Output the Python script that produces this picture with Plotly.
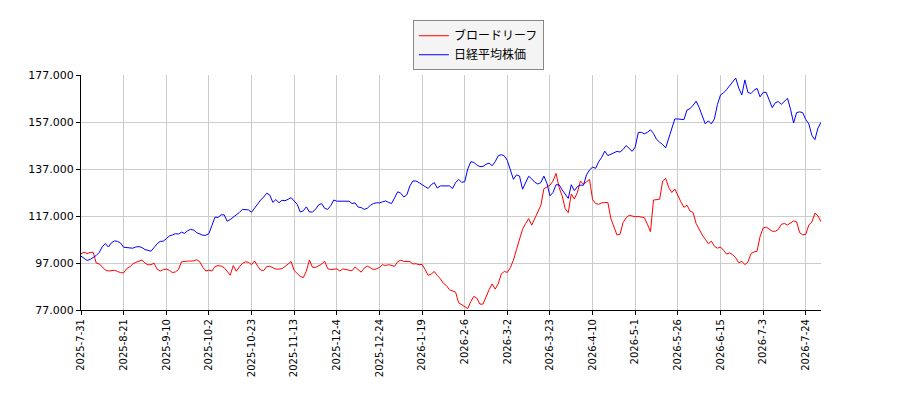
import plotly.graph_objects as go

# tick labels (every 14 trading days)
tick_labels = ["2025-7-31", "2025-8-21", "2025-9-10", "2025-10-2", "2025-10-23",
               "2025-11-13", "2025-12-4", "2025-12-24", "2026-1-19", "2026-2-6",
               "2026-3-2", "2026-3-23", "2026-4-10", "2026-5-1", "2026-5-26",
               "2026-6-15", "2026-7-3", "2026-7-24"]
tick_pos = [0, 14, 28, 42, 56, 70, 84, 98, 112, 126, 140, 154, 168, 182, 196, 210, 224, 238]

# ブロードリーフ (red)
broadleaf = [
    100.9, 101.6, 101.0, 101.5, 101.6, 97.0, 96.6, 95.4, 94.0, 93.6, 93.7, 93.9, 93.4, 92.9,
    92.8, 94.6, 95.3, 96.6, 97.3, 97.8, 98.2, 97.0, 96.2, 96.3, 96.9, 94.4, 93.6, 94.2, 94.4, 93.9,
    92.9, 93.2, 94.2, 97.5, 97.8, 97.8, 97.8, 97.9, 98.4, 97.5, 95.2, 93.6, 94.0, 93.6, 95.5,
    95.9, 95.7, 95.0, 93.5, 91.8, 95.9, 93.5, 95.3, 96.8, 97.5, 97.3, 96.3, 97.9, 95.7, 94.0,
    93.8, 95.5, 95.6, 94.9, 94.4, 94.4, 94.6, 95.5, 96.5, 97.6, 93.8, 92.7, 91.3, 90.8, 93.5,
    98.3, 95.2, 95.1, 95.8, 96.5, 97.8, 94.6, 94.2, 94.2, 94.5, 93.6, 94.5, 94.2, 94.0, 93.7,
    95.3, 94.2, 93.1, 94.8, 95.7, 95.0, 94.2, 94.5, 95.1, 96.3, 95.9, 96.3, 95.9, 95.6, 97.6,
    98.2, 97.7, 97.6, 97.6, 96.6, 96.7, 96.3, 96.4, 94.2, 91.7, 92.3, 93.4, 91.7, 90.3, 88.4,
    87.4, 85.6, 85.2, 84.6, 80.1, 79.2, 78.4, 77.6, 80.6, 82.8, 82.0, 79.5, 79.5, 82.8, 85.6,
    88.1, 85.9, 88.1, 92.3, 93.4, 93.0, 95.1, 98.2, 102.7, 107.6, 111.4, 113.8, 115.9, 113.1,
    115.9, 118.4, 121.5, 128.6, 129.2, 130.1, 131.9, 135.1, 129.1, 125.6, 120.1, 118.4, 126.4,
    124.2, 127.0, 131.9, 130.5, 131.4, 132.6, 123.9, 122.3, 122.0, 122.6, 122.7, 122.8, 115.9,
    112.0, 108.9, 109.2, 114.2, 116.2, 117.3, 117.0, 116.7, 116.8, 116.7, 116.3, 113.5, 110.3,
    123.8, 123.8, 124.1, 131.9, 133.0, 129.1, 127.0, 128.5, 125.6, 123.0, 120.7, 121.6, 119.1,
    118.5, 113.8, 111.0, 108.9, 107.1, 105.2, 106.3, 104.1, 103.3, 103.8, 102.4, 100.8,
    101.3, 100.5, 99.2, 97.1, 97.7, 96.3, 97.4, 101.0, 101.7, 102.0, 108.3, 111.9, 112.3, 111.3,
    110.5, 110.5, 111.3, 113.5, 113.8, 113.2, 114.1, 114.9, 114.5, 109.9, 109.0, 109.2, 113.2,
    114.4, 118.2, 117.1, 114.5,
]

# 日経平均株価 (blue)
nikkei = [
    99.9, 99.0, 98.1, 98.5, 99.4, 100.2, 101.5, 104.0, 105.3, 103.8, 105.6, 106.4, 106.2, 105.5,
    103.7, 103.5, 103.6, 103.3, 103.8, 104.0, 103.6, 102.7, 102.4, 102.0, 103.6, 105.2, 106.2,
    106.3, 107.3, 108.5, 108.9, 109.5, 109.3, 110.1, 109.6, 110.7, 111.3, 111.0, 109.9, 109.3,
    108.8, 108.8, 109.5, 113.0, 116.5, 116.4, 117.5, 117.5, 114.8, 115.5, 116.5, 117.3, 118.5,
    119.8, 119.8, 119.6, 118.6, 120.3, 122.4, 123.8, 125.1, 126.7, 125.9, 122.8, 124.0, 122.6,
    123.7, 123.5, 124.1, 124.8, 123.4, 121.9, 118.7, 119.2, 120.9, 118.7, 118.7, 119.8, 121.7,
    122.3, 120.3, 119.8, 121.4, 123.8, 123.3, 123.3, 123.3, 123.1, 123.3, 122.3, 122.6, 120.8,
    120.6, 119.8, 120.3, 121.5, 122.3, 122.6, 122.6, 123.0, 123.4, 122.8, 122.3, 124.8, 127.3,
    126.7, 125.1, 126.0, 129.8, 131.9, 131.9, 131.2, 130.5, 129.5, 128.7, 130.3, 131.2, 128.9,
    129.8, 129.8, 129.8, 129.8, 128.7, 131.2, 132.6, 131.3, 131.6, 137.0, 140.1, 139.8, 138.7,
    138.0, 138.1, 139.0, 139.5, 138.4, 140.1, 142.6, 143.1, 142.6, 140.6, 136.4, 132.6, 134.5,
    134.0, 128.4, 131.4, 133.9, 132.8, 131.4, 130.6, 131.2, 134.0, 130.9, 125.6, 127.0, 130.3,
    130.3, 128.1, 126.2, 124.5, 130.3, 127.8, 129.5, 130.1, 130.1, 134.5, 136.6, 137.8, 137.3,
    140.1, 142.0, 144.6, 142.7, 143.4, 143.9, 144.5, 144.2, 145.3, 147.0, 145.6, 144.5, 146.4,
    152.5, 152.6, 152.0, 152.6, 153.7, 152.1, 149.6, 148.4, 147.4, 146.0, 149.9, 154.4, 158.3,
    158.3, 158.0, 158.0, 162.1, 162.7, 164.1, 165.9, 163.1, 159.9, 156.2, 157.5, 156.2, 158.3,
    164.5, 168.5, 169.4, 170.8,
    172.4, 173.8, 175.7, 171.4, 168.5, 174.9, 169.6, 169.1, 170.5, 171.3, 167.7, 169.6, 169.6,
    166.3, 163.1, 165.2, 165.7, 164.5, 166.0, 167.1, 162.4, 156.6, 161.0, 161.3, 161.0, 158.0,
    156.2, 151.3, 149.5, 154.4, 156.9,
]

x = list(range(len(nikkei)))

fig = go.Figure()
fig.add_trace(go.Scatter(x=x, y=broadleaf, mode="lines", name="ブロードリーフ",
                         line=dict(color="#ff0000", width=1)))
fig.add_trace(go.Scatter(x=x, y=nikkei, mode="lines", name="日経平均株価",
                         line=dict(color="#0000ff", width=1)))

# the page adds an 8px body margin, so the margins are shifted by that much
fig.update_layout(
    width=900, height=400,
    margin=dict(l=73, r=87, t=62, b=98),
    paper_bgcolor="white", plot_bgcolor="white",
    font=dict(family="DejaVu Sans", size=11, color="black"),
    legend=dict(x=0.537, y=1.233, xanchor="center", yanchor="top",
                bgcolor="#f4f4f4", bordercolor="#888888", borderwidth=1,
                tracegroupgap=0,
                font=dict(family="Noto Sans CJK JP", size=12)),
    showlegend=True,
)
fig.update_xaxes(range=[0, len(nikkei) - 1], tickvals=tick_pos, ticktext=tick_labels,
                 tickangle=-90, tickfont=dict(size=10),
                 showgrid=True, gridcolor="#cccccc", gridwidth=1,
                 showline=True, linecolor="black", linewidth=1,
                 ticks="outside", ticklen=4, tickcolor="black", zeroline=False)
fig.update_yaxes(range=[77, 177], tickvals=[77, 97, 117, 137, 157, 177], tickformat=".3f",
                 showgrid=True, gridcolor="#cccccc", gridwidth=1,
                 showline=True, linecolor="black", linewidth=1,
                 ticks="outside", ticklen=4, tickcolor="black", zeroline=False)

fig.write_html("out.html")
